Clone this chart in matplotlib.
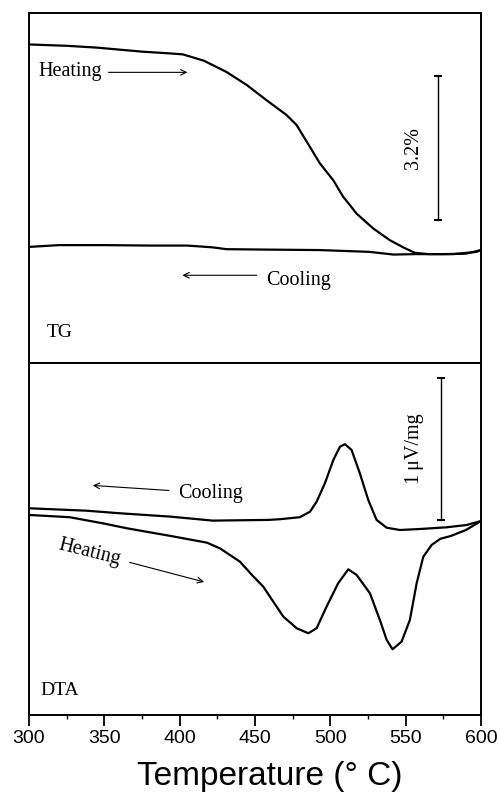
import matplotlib
matplotlib.use("Agg")
import matplotlib.pyplot as plt
from matplotlib.ticker import MultipleLocator

# =====
# DATA
# =====

# TG, heating run (temperature [C], mass change [%])
tg_heat_T = [300, 325, 345, 375, 394, 402, 416, 431, 444.5, 457.7, 471, 477.6, 486.5, 493,
             502, 508.6, 513, 517.4, 528.5, 539.5, 548.4, 556, 565, 582, 597, 600]
tg_heat_dm = [0.00, -0.03, -0.07, -0.16, -0.20, -0.22, -0.36, -0.61, -0.90, -1.24, -1.57,
              -1.79, -2.28, -2.64, -3.02, -3.39, -3.57, -3.76, -4.09, -4.35, -4.51, -4.63,
              -4.66, -4.66, -4.61, -4.57]

# TG, cooling run
tg_cool_T = [300, 320, 350, 380, 405, 422, 431, 459, 493, 526, 542, 556, 575, 590, 600]
tg_cool_dm = [-4.50, -4.46, -4.46, -4.47, -4.47, -4.51, -4.55, -4.56, -4.57, -4.61,
              -4.67, -4.66, -4.66, -4.65, -4.57]

# DTA, cooling run (temperature [C], signal [uV/mg])
dta_cool_T = [300, 338, 360, 394, 422, 459, 466.6, 479.8, 486.5, 490.9, 496.4, 502, 506.4,
              509.7, 514.1, 519.6, 525.2, 530.7, 537.4, 546.2, 559.5, 577.2, 590.4, 600]
dta_cool_s = [0.000, -0.017, -0.035, -0.059, -0.087, -0.082, -0.077, -0.063, -0.024, 0.046,
              0.176, 0.340, 0.434, 0.451, 0.411, 0.246, 0.058, -0.082, -0.137, -0.153,
              -0.146, -0.134, -0.118, -0.090]

# DTA, heating run
dta_heat_T = [300, 327, 349, 365, 394, 418, 426.7, 440, 448, 455.5, 468.8, 477.7, 485.4,
              490.9, 497.5, 505.2, 511.9, 517.5, 526.3, 532.9, 537.4, 541.3, 547.3, 552.8,
              557.3, 561.7, 567.3, 573, 580, 590, 600]
dta_heat_s = [-0.047, -0.063, -0.106, -0.141, -0.195, -0.242, -0.282, -0.376, -0.470,
              -0.552, -0.763, -0.845, -0.880, -0.845, -0.693, -0.528, -0.430, -0.470,
              -0.599, -0.787, -0.927, -0.993, -0.939, -0.787, -0.528, -0.341, -0.258,
              -0.215, -0.195, -0.153, -0.090]

# scale bars
tg_bar_len = 3.2     # %
dta_bar_len = 1.0    # uV/mg

# =====
# PLOT
# =====

serif = "Liberation Serif"
sans = "Liberation Sans"
lw_curve = 1.6

fig = plt.figure(figsize=(4.99, 7.95), dpi=100)
ax_tg = fig.add_axes([0.0581, 0.5434, 0.9058, 0.4403])
ax_dta = fig.add_axes([0.0581, 0.1006, 0.9058, 0.4428], sharex=ax_tg)

for ax in (ax_tg, ax_dta):
    for sp in ax.spines.values():
        sp.set_linewidth(1.4)
    ax.set_yticks([])

# TG panel
ax_tg.plot(tg_heat_T, tg_heat_dm, color="black", lw=lw_curve, solid_joinstyle="round")
ax_tg.plot(tg_cool_T, tg_cool_dm, color="black", lw=lw_curve, solid_joinstyle="round")
ax_tg.set_ylim(-7.08, 0.70)
ax_tg.tick_params(axis="x", which="both", bottom=False, labelbottom=False)

ax_tg.plot([571.5, 571.5], [-0.70, -0.70 - tg_bar_len], color="black", lw=1.0,
           marker="_", markersize=6, markeredgewidth=1.5)
ax_tg.text(555, -0.70 - tg_bar_len / 2, "3.2%", rotation=90, ha="center", va="center",
           family=serif, fontsize=14.5)

ax_tg.text(306, -0.61, "Heating", ha="left", va="center", family=serif, fontsize=14.5)
ax_tg.annotate("", xy=(407, -0.62), xytext=(351, -0.62),
               arrowprops=dict(arrowstyle="->", color="black", lw=0.8))
ax_tg.text(457.5, -5.24, "Cooling", ha="left", va="center", family=serif, fontsize=14.5)
ax_tg.annotate("", xy=(400, -5.13), xytext=(453, -5.13),
               arrowprops=dict(arrowstyle="->", color="black", lw=0.8))
ax_tg.text(311.5, -6.50, "TG", ha="left", va="baseline", family=serif, fontsize=14)

# DTA panel
ax_dta.plot(dta_cool_T, dta_cool_s, color="black", lw=lw_curve, solid_joinstyle="round")
ax_dta.plot(dta_heat_T, dta_heat_s, color="black", lw=lw_curve, solid_joinstyle="round")
ax_dta.set_ylim(-1.456, 1.023)

ax_dta.plot([573.4, 573.4], [0.918, 0.918 - dta_bar_len], color="black", lw=1.0,
            marker="_", markersize=6, markeredgewidth=1.5)
ax_dta.text(556, 0.418, "1\u2009\u03bcV/mg", rotation=90, ha="center", va="center",
            family=[serif, "DejaVu Serif"], fontsize=14.5)

ax_dta.text(399, 0.106, "Cooling", ha="left", va="center", family=serif, fontsize=14.5)
ax_dta.annotate("", xy=(340.5, 0.162), xytext=(394.7, 0.124),
                arrowprops=dict(arrowstyle="->", color="black", lw=0.8))
ax_dta.text(340, -0.311, "Heating", rotation=-14, ha="center", va="center",
            rotation_mode="anchor", family=serif, fontsize=14.5)
ax_dta.annotate("", xy=(418, -0.524), xytext=(365, -0.376),
                arrowprops=dict(arrowstyle="->", color="black", lw=0.8))
ax_dta.text(307.3, -1.315, "DTA", ha="left", va="baseline", family=serif, fontsize=14)

# x axis
ax_dta.set_xlim(300, 600)
ax_dta.xaxis.set_major_locator(MultipleLocator(50))
ax_dta.xaxis.set_minor_locator(MultipleLocator(25))
ax_dta.tick_params(axis="x", which="major", direction="out", length=8, width=1.3, pad=3,
                   labelsize=14)
ax_dta.tick_params(axis="x", which="minor", direction="out", length=3, width=1.0)
for lab in ax_dta.get_xticklabels():
    lab.set_family(sans)

fig.text(269.5 / 499, 0.012, "Temperature (\u00b0 C)", ha="center", va="baseline",
         family=sans, fontsize=24)

fig.savefig("out.png", dpi=100)
